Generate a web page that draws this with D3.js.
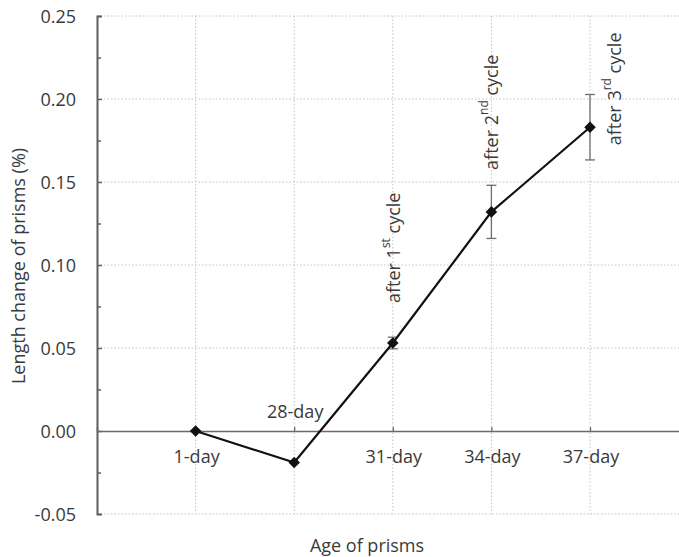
<!DOCTYPE html>
<html lang="en">
<head>
    <meta charset="UTF-8">
    <script src="https://cdn.jsdelivr.net/npm/d3@7"></script>
    <style>
        body { margin: 0; background: #fff; }
        svg { display: block; font-family: "Open Sans", sans-serif; }
        .grid line { stroke: #c4c4c4; stroke-width: 1; stroke-dasharray: 1.5 2; }
        .lbl { fill: #3a3a3a; font-size: 18px; }
    </style>
</head>
<body>
<svg width="679" height="557"></svg>
<script>
    // data
    var categories = ["1-day", "28-day", "31-day", "34-day", "37-day"];
    var values = [0, -0.019, 0.053, 0.132, 0.183];
    var errors = [0, 0, 0.0035, 0.016, 0.0197];
    var cycleLabels = [null, null, ["after 1", "st", " cycle"], ["after 2", "nd", " cycle"], ["after 3", "rd", " cycle"]];
    var yTicks = [-0.05, 0, 0.05, 0.10, 0.15, 0.20, 0.25];

    var svg = d3.select("svg");
    var margin = {left: 97, top: 16};
    var step = 98.6;

    var x = d3.scaleLinear().domain([0, 6]).range([margin.left, margin.left + 6 * step]);
    var y = d3.scaleLinear().domain([-0.05, 0.25]).range([514, 16]);

    // gridlines
    var grid = svg.append("g").attr("class", "grid");
    grid.selectAll(".h").data(yTicks.filter(function (d) { return d !== 0; }))
        .enter().append("line")
        .attr("x1", x(0)).attr("x2", x(6))
        .attr("y1", function (d) { return y(d); }).attr("y2", function (d) { return y(d); });
    grid.selectAll(".v").data(categories)
        .enter().append("line")
        .attr("x1", function (d, i) { return x(i + 1); }).attr("x2", function (d, i) { return x(i + 1); })
        .attr("y1", y(0.25)).attr("y2", y(-0.05));

    // y axis with inward ticks
    var yAxis = d3.axisRight(y).tickValues(yTicks).tickSize(5).tickFormat("");
    var yMinor = d3.axisRight(y).tickValues(d3.range(-0.025, 0.25, 0.05)).tickSize(4).tickFormat("");
    [yAxis, yMinor].forEach(function (ax) {
        var g = svg.append("g").attr("transform", "translate(" + x(0) + ",0)").call(ax);
        g.select(".domain").attr("stroke", "#5f5f5f").attr("stroke-width", 1.6);
        g.selectAll(".tick line").attr("stroke", "#5f5f5f").attr("stroke-width", 1.5);
    });

    svg.append("g").selectAll("text").data(yTicks).enter().append("text")
        .attr("class", "lbl").attr("font-size", 19)
        .attr("x", x(0) - 21).attr("y", function (d) { return y(d); })
        .attr("text-anchor", "end").attr("dominant-baseline", "central")
        .text(function (d) { return d.toFixed(2); });

    // zero line acting as x axis
    var xAxis = d3.axisTop(x).tickValues([1, 2, 3, 4, 5]).tickSize(4).tickFormat("");
    var gx = svg.append("g").attr("transform", "translate(0," + y(0) + ")").call(xAxis);
    gx.select(".domain").attr("stroke", "#6a6a6a").attr("stroke-width", 1.6);
    gx.selectAll(".tick line").attr("stroke", "#6a6a6a").attr("stroke-width", 1.3);

    svg.append("g").selectAll("text").data(categories).enter().append("text")
        .attr("class", "lbl")
        .attr("x", function (d, i) { return x(i + 1) + 1; })
        .attr("y", function (d, i) { return values[i] < 0 ? y(0) - 20 : y(0) + 25; })
        .attr("text-anchor", "middle").attr("dominant-baseline", "central")
        .text(function (d) { return d; });

    // error bars
    var eb = svg.append("g").attr("stroke", "#6e6e6e").attr("stroke-width", 1.3);
    values.forEach(function (v, i) {
        if (!errors[i]) return;
        var cx = x(i + 1);
        eb.append("line").attr("x1", cx).attr("x2", cx).attr("y1", y(v - errors[i])).attr("y2", y(v + errors[i]));
        [v - errors[i], v + errors[i]].forEach(function (e) {
            eb.append("line").attr("x1", cx - 5).attr("x2", cx + 5).attr("y1", y(e)).attr("y2", y(e));
        });
    });

    // series line and diamond markers
    var line = d3.line().x(function (d, i) { return x(i + 1); }).y(function (d) { return y(d); });
    svg.append("path").datum(values).attr("d", line)
        .attr("fill", "none").attr("stroke", "#111").attr("stroke-width", 2.2);
    svg.append("g").selectAll("path").data(values).enter().append("path")
        .attr("d", d3.symbol(d3.symbolDiamond2, 85))
        .attr("transform", function (d, i) { return "translate(" + x(i + 1) + "," + y(d) + ")"; })
        .attr("fill", "#111");

    // cycle annotations (offsets relative to the marker)
    var annOffset = [null, null, [0, -40], [0, -42], [24, 18]];
    cycleLabels.forEach(function (parts, i) {
        if (!parts) return;
        var ax = x(i + 1) + annOffset[i][0], ay = y(values[i]) + annOffset[i][1];
        var t = svg.append("text").attr("class", "lbl")
            .attr("transform", "translate(" + ax + "," + ay + ") rotate(-90)")
            .attr("dominant-baseline", "central").attr("font-size", 20.5);
        t.append("tspan").text(parts[0]);
        t.append("tspan").attr("font-size", 12).attr("dy", -8).text(parts[1]);
        t.append("tspan").attr("dy", 8).text(parts[2]);
    });

    // axis titles
    svg.append("text").attr("class", "lbl").attr("font-size", 20.5)
        .attr("x", 367).attr("y", 545)
        .attr("text-anchor", "middle").attr("dominant-baseline", "central")
        .text("Age of prisms");
    svg.append("text").attr("class", "lbl").attr("font-size", 18.5)
        .attr("transform", "translate(18,266) rotate(-90)")
        .attr("text-anchor", "middle").attr("dominant-baseline", "central")
        .text("Length change of prisms (%)");
</script>
</body>
</html>
